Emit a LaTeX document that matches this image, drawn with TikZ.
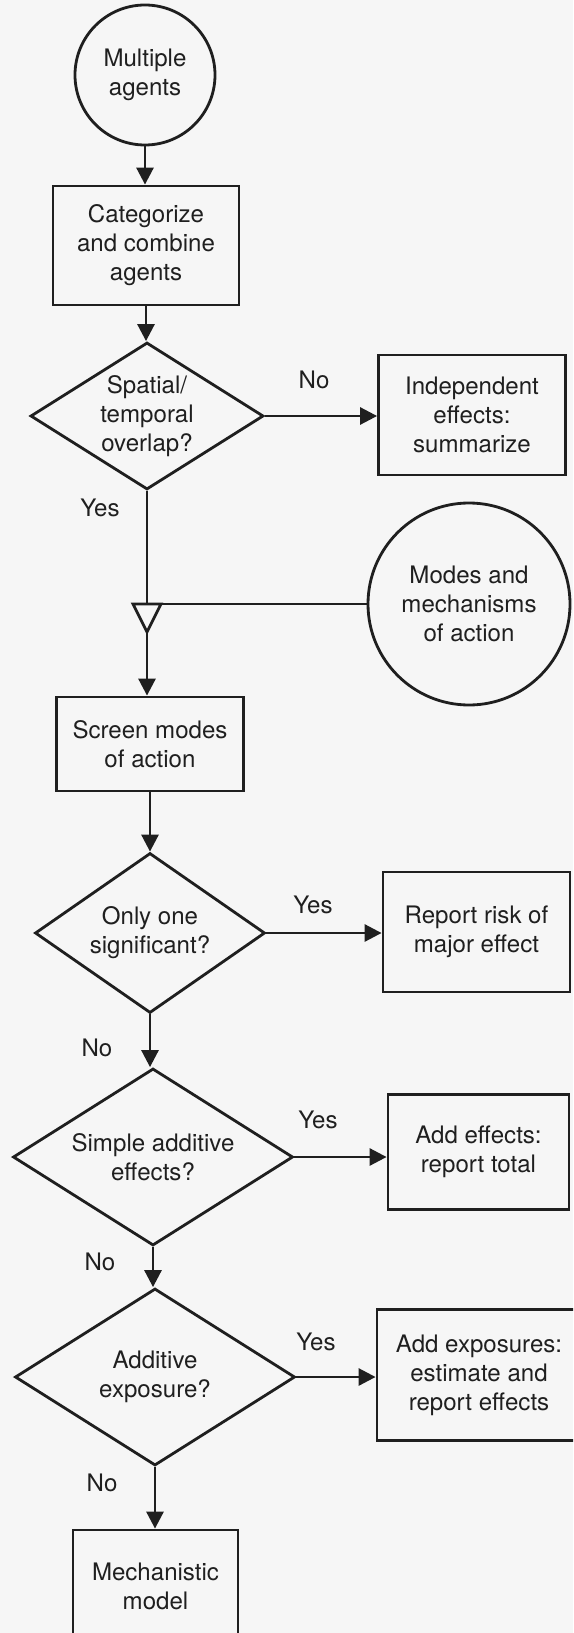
\documentclass[tikz,border=0pt]{standalone}
\usepackage{fontspec}
\setmainfont{TeX Gyre Heros}
\usetikzlibrary{arrows.meta,shapes.geometric,positioning}
\definecolor{paper}{gray}{0.965}
\definecolor{ink}{gray}{0.12}

\begin{document}
\begin{tikzpicture}[
  color=ink, line width=1.6pt,
  txt/.style={font=\fontsize{13.7}{16.5}\selectfont, align=center},
  term/.style={txt, circle, draw, inner sep=0pt},
  proc/.style={txt, rectangle, draw, inner sep=2pt},
  dec/.style={txt, diamond, draw, inner sep=0pt},
  lbl/.style={font=\fontsize{13.7}{16.5}\selectfont},
  arr/.style={-{Triangle[length=0.34cm,width=0.34cm]}},
]
\path[use as bounding box, fill=paper] (0,0) rectangle (11.46,-32.66);
\clip (0,0) rectangle (11.46,-32.66);
% main column
\node[term, minimum size=2.8cm] (agents) at (2.9,-1.5) {Multiple\\agents};
\node[proc, minimum width=3.72cm, minimum height=2.38cm] (combine) at (2.92,-4.91)
  {Categorize\\and combine\\agents};
\node[dec, minimum width=4.66cm, minimum height=2.94cm, aspect=1.58] (overlap) at (2.94,-8.32)
  {Spatial/\\temporal\\overlap?};
\node[proc, minimum width=3.74cm, minimum height=1.88cm] (screen) at (3.0,-14.88)
  {Screen modes\\of action};
\node[dec, minimum width=4.6cm, minimum height=3.2cm, aspect=1.44] (single) at (3.0,-18.66)
  {Only one\\significant?};
\node[dec, minimum width=5.6cm, minimum height=3.54cm, aspect=1.58] (simple) at (3.06,-23.14)
  {Simple additive\\effects?};
\node[dec, minimum width=5.6cm, minimum height=3.54cm, aspect=1.58] (expo) at (3.1,-27.54)
  {Additive\\exposure?};
\node[proc, minimum width=3.3cm, minimum height=2.24cm] (mech) at (3.11,-31.72)
  {Mechanistic\\model};
% right column
\node[proc, minimum width=3.74cm, minimum height=2.4cm] (indep) at (9.44,-8.3)
  {Independent\\effects:\\summarize};
\node[term, minimum size=4.04cm] (modes) at (9.38,-12.08)
  {Modes and\\mechanisms\\of action};
\node[proc, minimum width=3.74cm, minimum height=2.4cm] (major) at (9.53,-18.64)
  {Report risk of\\major effect};
\node[proc, minimum width=3.62cm, minimum height=2.3cm] (total) at (9.57,-23.04)
  {Add effects:\\report total};
\node[proc, minimum width=4.08cm, minimum height=2.62cm] (estim) at (9.58,-27.5)
  {Add exposures:\\estimate and\\report effects};
% branch labels
\node[lbl] (no1)  at (6.28,-7.6)   {No};
\node[lbl] (yes1) at (2.0,-10.16)  {Yes};
\node[lbl] (yes2) at (6.26,-18.1)  {Yes};
\node[lbl] (no2)  at (1.94,-20.96) {No};
\node[lbl] (yes3) at (6.36,-22.4)  {Yes};
\node[lbl] (no3)  at (2.0,-25.24)  {No};
\node[lbl] (yes4) at (6.32,-26.84) {Yes};
\node[lbl] (no4)  at (2.04,-29.66) {No};
% connectors
\foreach \u/\v in {agents/combine,combine/overlap,screen/single,single/simple,simple/expo,expo/mech}
  \draw[arr] (\u.south) -- (\u.south |- \v.north);
\foreach \u/\v in {overlap/indep,single/major,simple/total,expo/estim}
  \draw[arr] (\u.east) -- (\u.east -| \v.west);
\coordinate (join) at (overlap.south |- modes.west);
\draw (overlap.south) -- (join) -- (modes.west);
\draw[fill=paper] ([xshift=-0.28cm]join) -- ([xshift=0.28cm]join)
  -- ([yshift=-0.56cm]join) coordinate (apex) -- cycle;
\draw[arr] (apex) -- (apex |- screen.north);
\end{tikzpicture}
\end{document}
